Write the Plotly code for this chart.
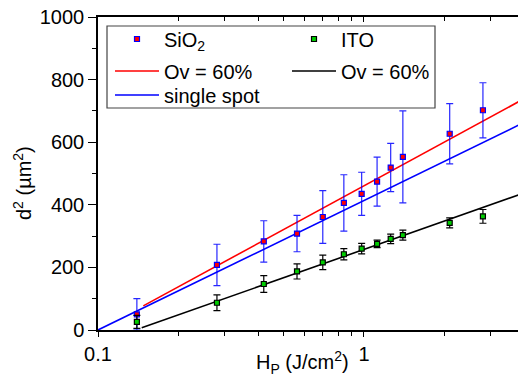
import plotly.graph_objects as go

# ---- data ----
H = [0.14, 0.28, 0.42, 0.56, 0.70, 0.84, 0.98, 1.12, 1.26, 1.40, 2.10, 2.80]
sio2 = [50, 208, 283, 308, 361, 406, 435, 474, 519, 553, 627, 702]
sio2_err = [50, 66, 66, 58, 84, 90, 69, 78, 77, 147, 96, 88]
ito = [26, 87, 147, 187, 216, 242, 260, 275, 291, 303, 342, 363]
ito_err = [21, 25, 27, 24, 23, 18, 17, 12, 15, 16, 16, 22]

fit_red_x = [0.148, 4.0]
fit_red_y = [77, 739]
fit_blue_x = [0.1, 4.0]
fit_blue_y = [0, 663]
fit_black_x = [0.146, 4.0]
fit_black_y = [7, 438]

x_tickvals = [0.1, 1]
x_ticktext = ["0.1", "1"]
x_minor = [0.2, 0.3, 0.4, 0.5, 0.6, 0.7, 0.8, 0.9, 2, 3]
y_tickvals = [0, 200, 400, 600, 800, 1000]

FONT = "Liberation Sans, Arial, sans-serif"
W, Hgt = 518, 378
ML, MT, MB, MR = 98, 17, 48, 0

def px2paper(px, py):
    return (px - ML) / (W - ML - MR), (Hgt - MB - py) / (Hgt - MT - MB)

fig = go.Figure()

# fit lines
fig.add_trace(go.Scatter(x=fit_red_x, y=fit_red_y, mode="lines", name="Ov = 60%",
                         line=dict(color="#ff0000", width=1.6), legend="legend3"))
fig.add_trace(go.Scatter(x=fit_blue_x, y=fit_blue_y, mode="lines", name="single spot",
                         line=dict(color="#0000ff", width=1.6), legend="legend5"))
fig.add_trace(go.Scatter(x=fit_black_x, y=fit_black_y, mode="lines", name="Ov = 60%",
                         line=dict(color="#000000", width=1.6), legend="legend4"))

# data points
fig.add_trace(go.Scatter(x=H, y=sio2, mode="markers", name="SiO<sub>2</sub>",
                         marker=dict(symbol="square", size=5, color="#ff0000",
                                     line=dict(color="#0000ff", width=1.2)),
                         error_y=dict(type="data", array=sio2_err, visible=True,
                                      color="rgba(0,0,255,0.85)", thickness=1.2, width=3.5),
                         legend="legend"))
fig.add_trace(go.Scatter(x=H, y=ito, mode="markers", name="ITO",
                         marker=dict(symbol="square", size=5, color="#00cc00",
                                     line=dict(color="#000000", width=1.2)),
                         error_y=dict(type="data", array=ito_err, visible=True,
                                      color="#000000", thickness=1.2, width=3.5),
                         legend="legend2"))

# dummy invisible trace to activate the top (mirror) axis with inward ticks
fig.add_trace(go.Scatter(x=[1], y=[0], xaxis="x2", mode="markers", marker=dict(opacity=0),
                         showlegend=False, hoverinfo="skip"))

# legend frame
x0, y0 = px2paper(107, 26)
x1, y1 = px2paper(435, 108)
fig.add_shape(type="rect", xref="paper", yref="paper", x0=x0, y0=y1, x1=x1, y1=y0,
              line=dict(color="#444444", width=1.2), fillcolor="white", layer="below")

def leg(px, py):
    x, y = px2paper(px, py)
    return dict(x=x, y=y, xanchor="left", yanchor="middle", bgcolor="rgba(0,0,0,0)",
                borderwidth=0, font=dict(size=20), itemwidth=44, tracegroupgap=0)

legends = {
    "legend": leg(110, 39),
    "legend2": leg(287, 39),
    "legend3": leg(110, 71),
    "legend4": leg(287, 71),
    "legend5": leg(110, 95),
}

fig.update_layout(
    width=W, height=Hgt,
    margin=dict(l=ML, r=MR, t=MT, b=MB, pad=0),
    paper_bgcolor="white", plot_bgcolor="white",
    font=dict(family=FONT, size=20, color="#000000"),
    showlegend=True,
    **legends,
    xaxis=dict(type="log", range=[-1, 0.579], tickvals=x_tickvals, ticktext=x_ticktext,
               ticks="outside", ticklen=5, tickwidth=1.2, tickcolor="#000",
               showline=True, linecolor="#000", linewidth=1.5, mirror=True,
               showgrid=False, zeroline=False,
               minor=dict(ticks="outside", ticklen=4, tickwidth=1, tickcolor="#000",
                          tickvals=x_minor, showgrid=False),
               tickfont=dict(size=20)),
    xaxis2=dict(type="log", range=[-1, 0.579], overlaying="x", side="top",
                tickvals=x_tickvals, showticklabels=False, ticks="inside", ticklen=5,
                tickwidth=1.2, tickcolor="#000", showgrid=False, zeroline=False,
                minor=dict(ticks="inside", ticklen=4, tickwidth=1, tickcolor="#000",
                           tickvals=x_minor, showgrid=False)),
    yaxis=dict(range=[0, 1000], tickvals=y_tickvals, ticks="outside", ticklen=8,
               tickwidth=1.2, tickcolor="#000", showline=True, linecolor="#000", linewidth=1.5,
               showgrid=False, zeroline=False,
               minor=dict(ticks="outside", ticklen=4, tickwidth=1, tickcolor="#000", dtick=100,
                          showgrid=False),
               tickfont=dict(size=20)),
    annotations=[
        dict(text="H<sub>P</sub> (J/cm<sup>2</sup>)", xref="paper", yref="paper",
             x=px2paper(302, 0)[0], y=px2paper(0, 362)[1], xanchor="center", yanchor="middle",
             showarrow=False, font=dict(size=20)),
        dict(text="d<sup>2</sup> (µm<sup>2</sup>)", xref="paper", yref="paper", textangle=-90,
             x=px2paper(22, 0)[0], y=px2paper(0, 183)[1], xanchor="center", yanchor="middle",
             showarrow=False, font=dict(size=20)),
    ],
)

fig.write_html("out.html")
